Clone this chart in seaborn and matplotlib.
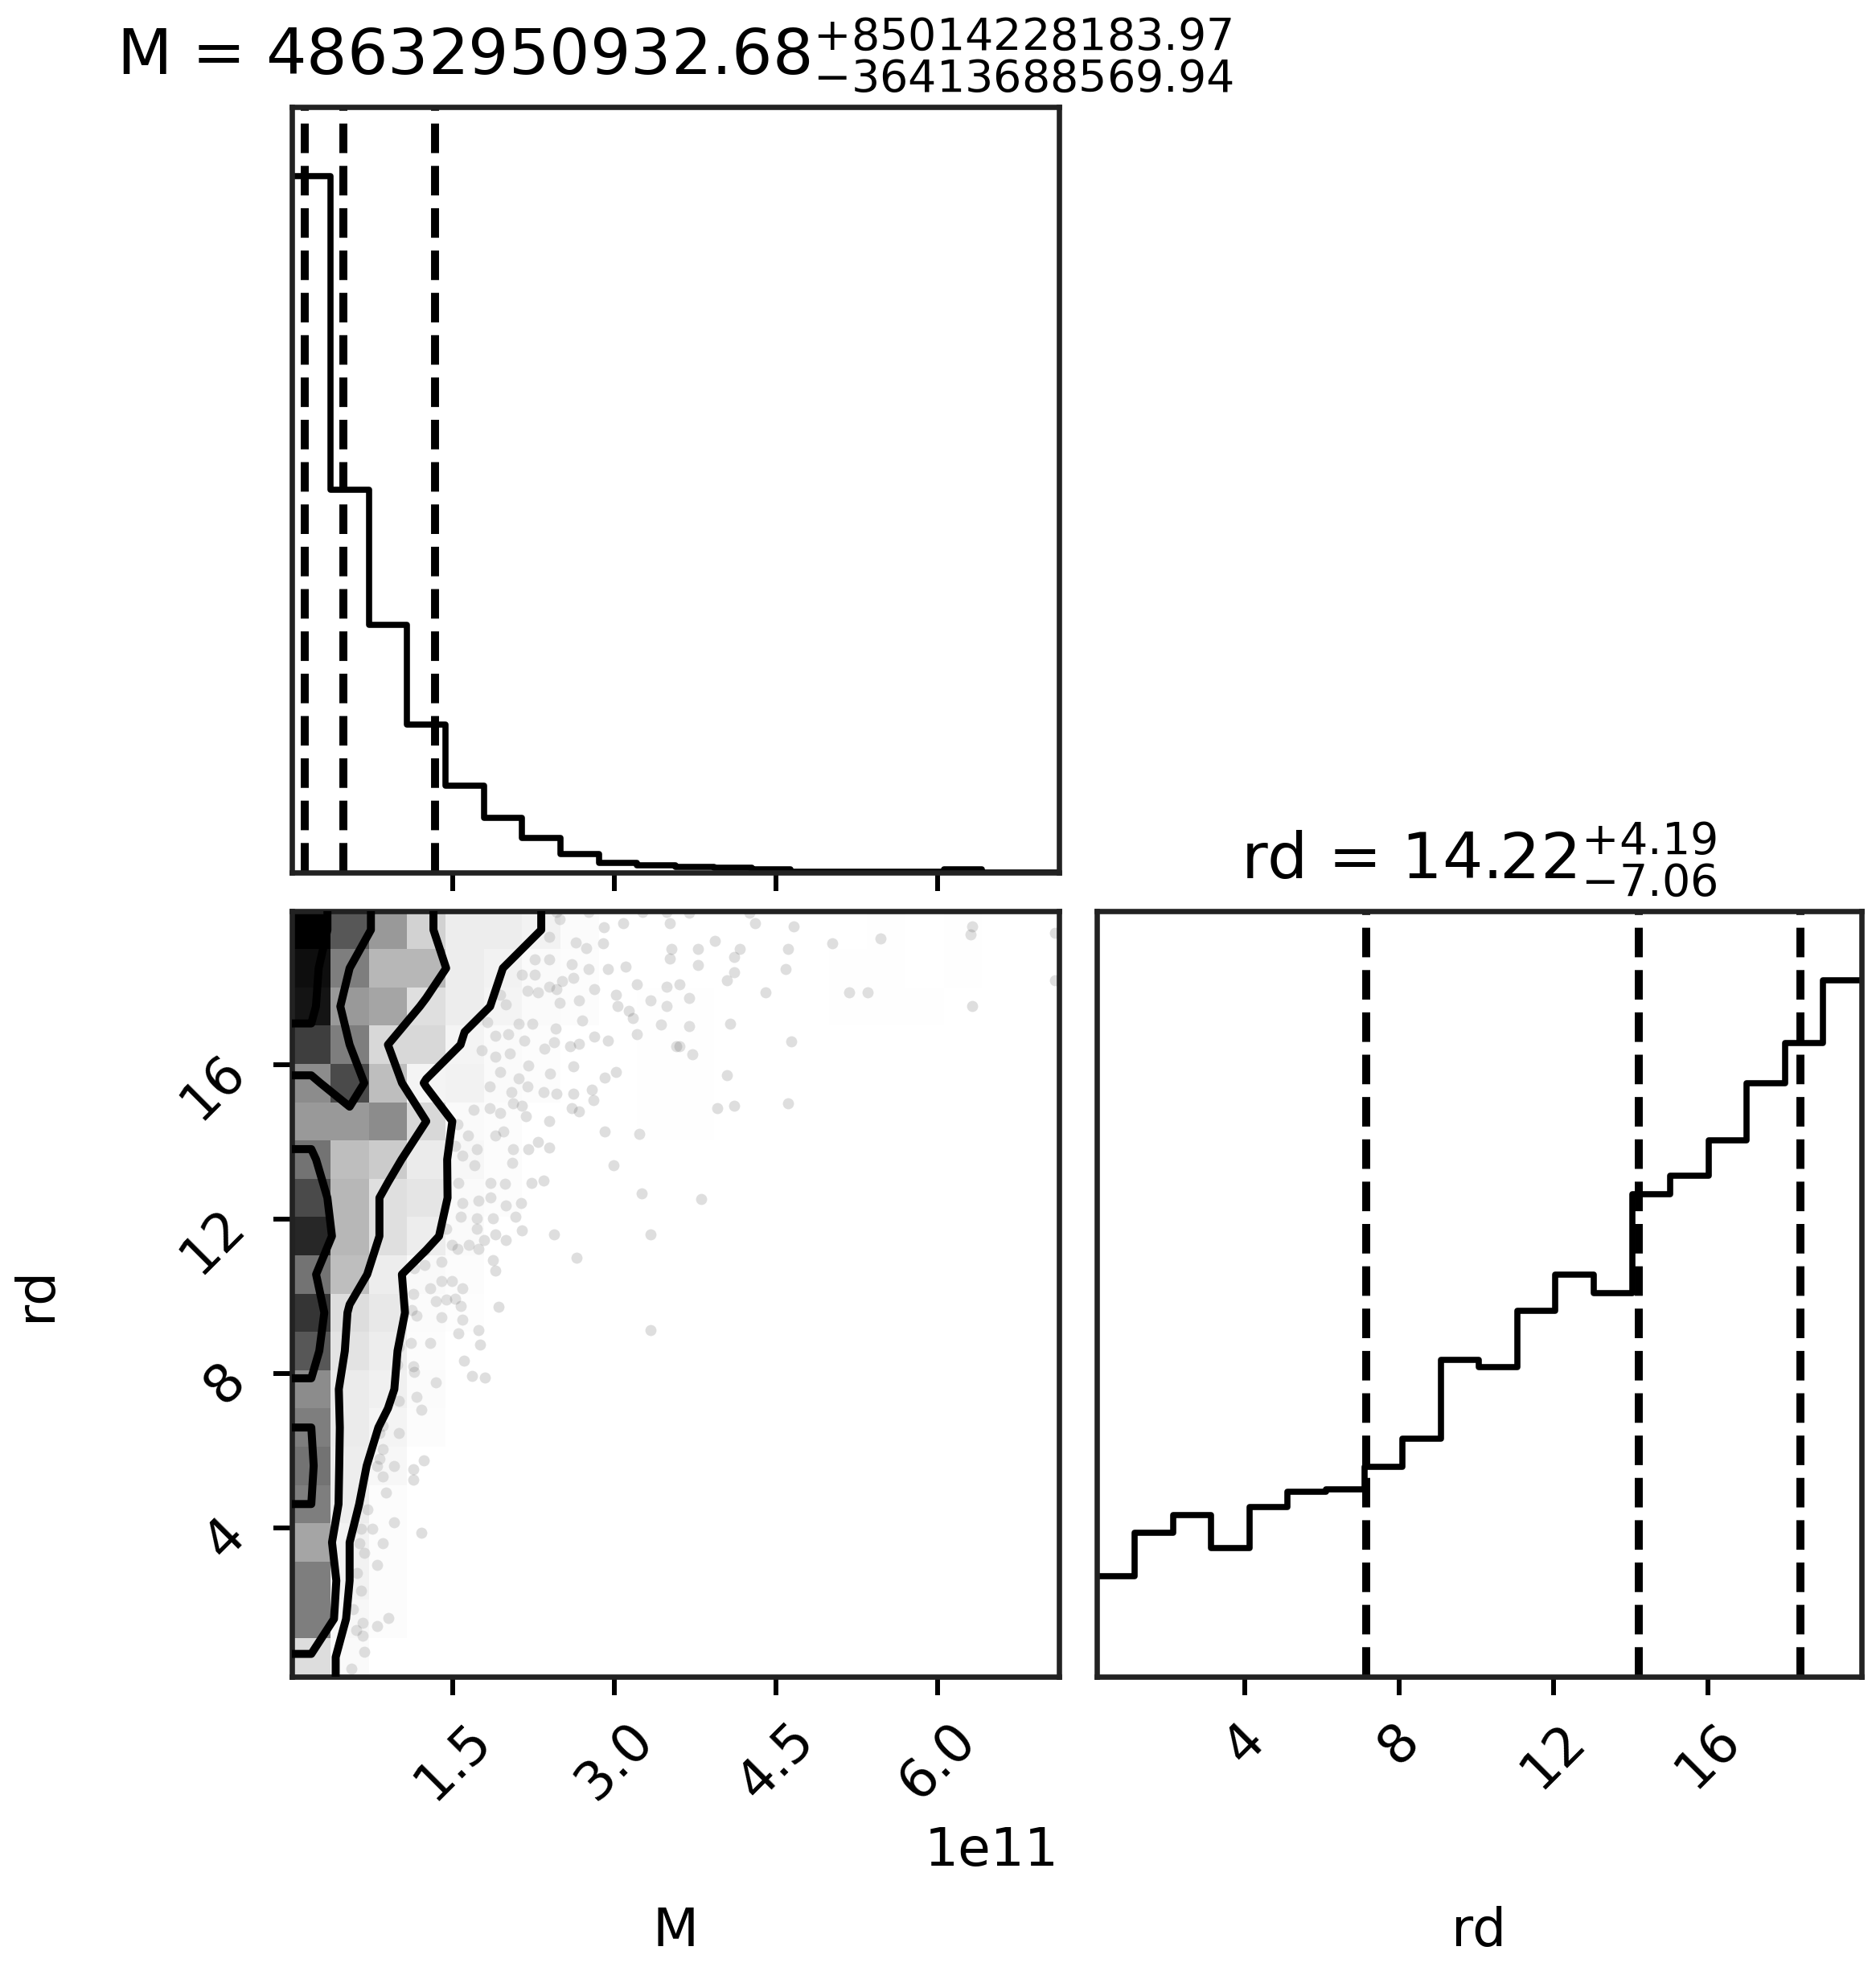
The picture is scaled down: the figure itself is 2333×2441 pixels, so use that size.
import numpy as np
import matplotlib
matplotlib.use("Agg")
import matplotlib.pyplot as plt
import seaborn as sns
from matplotlib.colors import LinearSegmentedColormap
from matplotlib.ticker import MaxNLocator, NullLocator, ScalarFormatter

# ---------------- data ----------------
M_SCALE = 1e11
m_limits = [0.008, 7.12]          # in units of 1e11
rd_limits = [0.16, 19.99]
n_bins = 20

# 1-D marginal histograms (relative counts per bin)
m_counts = [1355, 745, 482, 288, 168, 106, 67, 35, 18, 14, 10, 9, 5, 1, 1, 1, 1, 5, 0, 0]
rd_counts = [195, 280, 315, 250, 330, 360, 365, 408, 463, 618,
             603, 713, 783, 748, 940, 976, 1046, 1158, 1235, 1358]

# quantiles (16, 50, 84 %)
m_quantiles = [12219262362.74, 48632950932.68, 133647179116.65]
rd_quantiles = [7.16, 14.22, 18.41]

m_title = r"M = ${48632950932.68}_{-36413688569.94}^{+85014228183.97}$"
rd_title = r"rd = ${14.22}_{-7.06}^{+4.19}$"
m_label = "M"
rd_label = "rd"

# 2-D histogram (rows: rd bins from top to bottom, columns: M bins)
density_rows = [
    [100, 81, 63, 42, 26, 26, 22, 12, 0, 0, 0, 0, 0, 0, 0, 6, 0, 6, 0, 0],
    [97, 71, 53, 53, 26, 22, 14, 10, 0, 0, 0, 0, 0, 0, 6, 6, 0, 6, 0, 0],
    [96, 63, 59, 35, 26, 20, 14, 10, 0, 6, 6, 0, 0, 0, 6, 6, 6, 0, 0, 0],
    [87, 71, 39, 39, 20, 14, 10, 0, 0, 6, 6, 0, 0, 0, 0, 0, 0, 0, 0, 0],
    [67, 84, 50, 20, 22, 14, 10, 0, 0, 6, 6, 0, 0, 0, 0, 0, 0, 0, 0, 0],
    [63, 63, 67, 39, 14, 10, 0, 0, 0, 6, 6, 0, 0, 0, 0, 0, 0, 0, 0, 0],
    [74, 50, 45, 28, 17, 10, 0, 0, 0, 0, 0, 0, 0, 0, 0, 0, 0, 0, 0, 0],
    [84, 53, 35, 32, 14, 10, 0, 0, 0, 0, 0, 0, 0, 0, 0, 0, 0, 0, 0, 0],
    [92, 53, 35, 26, 14, 0, 0, 0, 0, 0, 0, 0, 0, 0, 0, 0, 0, 0, 0, 0],
    [74, 50, 26, 15, 10, 0, 0, 0, 0, 0, 0, 0, 0, 0, 0, 0, 0, 0, 0, 0],
    [89, 36, 30, 12, 8, 0, 0, 0, 0, 0, 0, 0, 0, 0, 0, 0, 0, 0, 0, 0],
    [81, 33, 26, 10, 0, 0, 0, 0, 0, 0, 0, 0, 0, 0, 0, 0, 0, 0, 0, 0],
    [67, 28, 24, 12, 0, 0, 0, 0, 0, 0, 0, 0, 0, 0, 0, 0, 0, 0, 0, 0],
    [71, 28, 20, 10, 0, 0, 0, 0, 0, 0, 0, 0, 0, 0, 0, 0, 0, 0, 0, 0],
    [74, 26, 17, 0, 0, 0, 0, 0, 0, 0, 0, 0, 0, 0, 0, 0, 0, 0, 0, 0],
    [71, 26, 10, 0, 0, 0, 0, 0, 0, 0, 0, 0, 0, 0, 0, 0, 0, 0, 0, 0],
    [59, 22, 10, 0, 0, 0, 0, 0, 0, 0, 0, 0, 0, 0, 0, 0, 0, 0, 0, 0],
    [71, 22, 10, 0, 0, 0, 0, 0, 0, 0, 0, 0, 0, 0, 0, 0, 0, 0, 0, 0],
    [71, 17, 10, 0, 0, 0, 0, 0, 0, 0, 0, 0, 0, 0, 0, 0, 0, 0, 0, 0],
    [36, 14, 0, 0, 0, 0, 0, 0, 0, 0, 0, 0, 0, 0, 0, 0, 0, 0, 0, 0],
]

# individual samples visible outside the outer contour (M in 1e11, rd)
sample_m = [
    2.46, 2.49, 2.76, 2.90, 3.08, 3.51, 3.26, 3.48, 2.39, 2.64, 2.74, 2.89, 3.53, 2.26, 2.39,
    2.60, 2.76, 2.94, 3.10, 3.51, 2.14, 2.26, 2.51, 2.62, 3.21, 3.48, 2.19, 2.29, 2.39, 2.46,
    2.81, 3.01, 3.33, 1.94, 1.99, 2.49, 2.67, 3.03, 3.13, 3.17, 3.48, 3.43, 1.82, 1.89, 2.01,
    2.11, 2.24, 2.45, 2.70, 2.81, 2.94, 3.21, 1.77, 1.89, 2.03, 2.16, 2.35, 2.44, 2.59, 2.67,
    3.57, 1.94, 2.11, 2.20, 2.40, 2.62, 2.91, 3.01, 1.84, 2.04, 2.19, 2.34, 2.46, 2.62, 2.79,
    2.80, 1.69, 1.84, 1.94, 2.06, 2.14, 2.18, 2.39, 2.60, 2.67, 1.54, 1.64, 1.89, 1.97, 2.91,
    3.23, 1.52, 1.59, 1.72, 2.06, 2.20, 2.29, 2.39, 2.05, 1.70, 2.99, 1.55, 1.85, 1.98, 2.23,
    2.34, 3.25, 1.59, 1.74, 1.85, 1.99, 2.13, 1.37, 1.57, 1.72, 1.87, 2.08,
    3.69, 4.25, 4.30, 4.66, 3.93, 3.77, 4.16, 4.11, 4.61, 5.02, 5.47, 6.32, 6.30, 7.09, 3.77,
    4.11, 4.04, 4.59, 3.60, 3.69, 4.40, 5.18, 5.35, 6.32, 7.09, 3.69, 4.07, 4.64, 3.60, 3.72,
    4.04, 3.95, 4.11, 4.61, 3.80,
    1.19, 1.24, 1.34, 1.44, 1.49, 1.54, 1.72, 1.65, 1.74, 1.79, 1.89, 1.99, 2.14, 2.44, 3.33,
    1.14, 1.24, 1.39, 1.87, 1.89, 2.65, 1.13, 1.29, 1.39, 1.49, 1.59, 1.34, 1.44, 1.52, 1.57,
    1.92, 1.12, 1.16, 1.39, 1.59, 1.55, 1.74, 1.75, 3.33, 0.97, 1.00, 1.11, 1.29, 1.60, 0.98,
    1.13, 1.14, 1.34, 1.68, 1.80, 1.00, 1.16, 1.21, 0.80, 0.85, 0.75, 0.82, 1.00, 0.67, 0.85,
    0.82, 0.66, 0.80, 0.95, 1.13, 1.23, 0.85, 1.13, 0.63, 0.88, 0.71, 0.95, 0.65, 0.75, 1.21,
    0.63, 0.85, 0.68, 0.80, 0.61, 0.65, 0.57, 0.66, 0.80, 0.90, 0.60, 0.66, 0.68, 0.56,
]
sample_rd = [
    19.95, 19.77, 19.95, 19.56, 19.66, 19.66, 19.95, 19.95, 19.31, 19.17, 19.03, 19.14, 19.00, 18.72, 18.72,
    18.61, 18.47, 18.47, 18.54, 18.75, 18.33, 18.33, 18.16, 18.26, 18.09, 18.02, 17.91, 17.88, 18.02, 17.95,
    17.95, 17.81, 17.67, 17.81, 17.56, 17.60, 17.67, 17.53, 17.39, 17.21, 17.53, 17.04, 17.11, 16.76, 16.79,
    17.07, 17.07, 16.93, 17.14, 16.72, 16.62, 16.79, 16.37, 16.20, 16.30, 16.62, 16.41, 16.58, 16.48, 16.55,
    16.48, 15.81, 15.64, 15.99, 15.78, 15.95, 15.67, 15.81, 15.43, 15.29, 15.43, 15.29, 15.25, 15.25, 15.36,
    15.08, 14.83, 14.87, 14.76, 15.01, 14.94, 14.66, 14.55, 14.87, 14.80, 14.45, 14.17, 14.17, 14.27, 14.27,
    14.20, 13.89, 13.64, 13.82, 13.82, 13.82, 14.00, 13.85, 13.47, 13.40, 13.40, 12.94, 12.94, 12.91, 12.94,
    13.01, 12.66, 12.42, 12.49, 12.56, 12.35, 12.42, 12.24, 12.07, 12.03, 12.03, 12.07,
    19.94, 19.94, 19.66, 19.59, 19.21, 19.00, 19.00, 18.79, 19.00, 19.14, 19.28, 19.59, 19.38, 19.42, 18.59,
    18.40, 18.19, 18.47, 18.09, 17.74, 17.88, 17.88, 17.88, 17.53, 18.19, 17.00, 17.07, 16.60, 16.48, 16.27,
    15.74, 14.87, 14.94, 15.01, 12.52,
    11.49, 11.19, 11.56, 11.75, 11.34, 11.23, 11.75, 11.34, 11.23, 11.45, 11.60, 11.45, 11.71, 11.60, 11.60,
    10.74, 10.81, 10.89, 10.93, 10.66, 11.00, 10.06, 10.21, 10.40, 10.40, 10.21, 9.88, 9.91, 9.95, 9.76,
    9.73, 9.65, 9.50, 9.46, 9.39, 9.05, 9.13, 8.75, 9.13, 8.90, 8.68, 8.79, 8.79, 8.34, 8.23,
    8.19, 8.04, 7.78, 7.93, 7.89, 7.29, 7.40, 7.06, 6.84, 6.65, 6.46, 6.46, 6.46, 6.01, 6.05,
    5.79, 5.56, 5.60, 5.60, 5.53, 5.75, 5.34, 5.26, 4.85, 4.93, 4.48, 4.14, 3.99, 3.99, 3.88,
    3.61, 3.61, 3.35, 3.05, 2.83, 2.38, 1.89, 1.55, 1.47, 1.66, 1.36, 1.21, 0.80, 0.35,
]

contour_levels = 1.0 - np.exp(-0.5 * np.arange(0.5, 2.1, 0.5) ** 2)

# ---------------- figure ----------------
W, H = 2333, 2441
DPI = 476.6
plt.rcParams["font.family"] = ["DejaVu Sans"]
plt.rcParams["axes.linewidth"] = 1.0
plt.rcParams["xtick.major.width"] = 0.9
plt.rcParams["ytick.major.width"] = 0.9
plt.rcParams["axes.edgecolor"] = "#222222"
fig = plt.figure(figsize=(W / DPI, H / DPI), dpi=DPI)


def rect(x0, y0, x1, y1):
    return [x0 / W, 1 - y1 / H, (x1 - x0) / W, (y1 - y0) / H]


ax_m = fig.add_axes(rect(363.3, 132.7, 1316.5, 1084.5))
ax_2d = fig.add_axes(rect(363.3, 1132.5, 1316.5, 2084.5))
ax_rd = fig.add_axes(rect(1363.5, 1132.5, 2315.0, 2084.5))

m_edges = np.linspace(m_limits[0], m_limits[1], n_bins + 1) * M_SCALE
rd_edges = np.linspace(rd_limits[0], rd_limits[1], n_bins + 1)
m_centers = 0.5 * (m_edges[1:] + m_edges[:-1])
rd_centers = 0.5 * (rd_edges[1:] + rd_edges[:-1])

hist_lw = 1.15
quant_lw = 1.5

# ---- 1-D histogram of M
sns.histplot(x=list(m_centers), weights=list(m_counts), bins=list(m_edges), element="step",
             fill=False, color="k", linewidth=hist_lw, ax=ax_m)
for q in m_quantiles:
    ax_m.axvline(q, color="k", ls="dashed", lw=quant_lw)
ax_m.set_xlim(m_edges[0], m_edges[-1])
ax_m.set_ylim(0, 1.1 * max(m_counts))
ax_m.yaxis.set_major_locator(NullLocator())
ax_m.xaxis.set_major_locator(MaxNLocator(5, prune="lower"))
ax_m.tick_params(axis="x", labelbottom=False)
ax_m.set_xlabel("")
ax_m.set_ylabel("")
ax_m.set_title(m_title, fontsize=12)

# ---- 1-D histogram of rd
sns.histplot(x=list(rd_centers), weights=list(rd_counts), bins=list(rd_edges), element="step",
             fill=False, color="k", linewidth=hist_lw, ax=ax_rd)
for q in rd_quantiles:
    ax_rd.axvline(q, color="k", ls="dashed", lw=quant_lw)
ax_rd.set_xlim(rd_edges[0], rd_edges[-1])
ax_rd.set_ylim(0, 1.1 * max(rd_counts))
ax_rd.yaxis.set_major_locator(NullLocator())
ax_rd.xaxis.set_major_locator(MaxNLocator(5, prune="lower"))
ax_rd.tick_params(axis="x", labelrotation=45)
ax_rd.set_ylabel("")
ax_rd.set_xlabel(rd_label, fontsize=10)
ax_rd.xaxis.set_label_coords(0.5, -0.3)
ax_rd.set_title(rd_title, fontsize=12)

# ---- 2-D panel
Z = np.array(density_rows[::-1], dtype=float)   # rows: rd from bottom, cols: M
gx, gy = np.meshgrid(m_centers, rd_centers)

# samples
sns.scatterplot(x=np.array(sample_m) * M_SCALE, y=np.array(sample_rd), color="k", alpha=0.13,
                s=4.4, linewidth=0, ax=ax_2d, zorder=0, legend=False)

# contour levels from the enclosed mass (as in corner)
flat = np.sort(Z.flatten())[::-1]
cum = np.cumsum(flat)
cum /= cum[-1]
V = np.empty(len(contour_levels))
for i, v0 in enumerate(contour_levels):
    sel = flat[cum <= v0]
    V[i] = sel[-1] if len(sel) else flat[0]
V.sort()
m = np.diff(V) == 0
while np.any(m):
    V[np.where(m)[0][0]] *= 1.0 - 1e-4
    m = np.diff(V) == 0
V.sort()

# padded grid for the contours
Z2 = Z.min() + np.zeros((Z.shape[0] + 4, Z.shape[1] + 4))
Z2[2:-2, 2:-2] = Z
Z2[2:-2, 1] = Z[:, 0]
Z2[2:-2, -2] = Z[:, -1]
Z2[1, 2:-2] = Z[0]
Z2[-2, 2:-2] = Z[-1]
Z2[1, 1] = Z[0, 0]
Z2[1, -2] = Z[0, -1]
Z2[-2, 1] = Z[-1, 0]
Z2[-2, -2] = Z[-1, -1]
dxm = m_centers[1] - m_centers[0]
dyr = rd_centers[1] - rd_centers[0]
X2 = np.concatenate([m_centers[0] + np.array([-2, -1]) * dxm, m_centers,
                     m_centers[-1] + np.array([1, 2]) * dxm])
Y2 = np.concatenate([rd_centers[0] + np.array([-2, -1]) * dyr, rd_centers,
                     rd_centers[-1] + np.array([1, 2]) * dyr])

ax_2d.contourf(X2, Y2, Z2, [V.min(), Z.max()], colors=["white"], antialiased=False, zorder=1)

density_cmap = LinearSegmentedColormap.from_list("density", [(1, 1, 1, 0), (0, 0, 0, 1)])
sns.histplot(x=list(gx.flatten()), y=list(gy.flatten()), weights=list(Z.flatten()),
             bins=(list(m_edges), list(rd_edges)),
             cmap=density_cmap, vmin=0, vmax=Z.max(), ax=ax_2d, zorder=2)

ax_2d.contour(X2, Y2, Z2, V, colors="k", linewidths=1.5, zorder=3)

ax_2d.set_xlim(m_edges[0], m_edges[-1])
ax_2d.set_ylim(rd_edges[0], rd_edges[-1])
ax_2d.xaxis.set_major_locator(MaxNLocator(5, prune="lower"))
ax_2d.yaxis.set_major_locator(MaxNLocator(5, prune="lower"))
ax_2d.xaxis.set_major_formatter(ScalarFormatter(useMathText=False))
ax_2d.tick_params(axis="x", labelrotation=45)
ax_2d.tick_params(axis="y", labelrotation=45)
ax_2d.set_xlabel(m_label, fontsize=10)
ax_2d.set_ylabel(rd_label, fontsize=10)
ax_2d.xaxis.set_label_coords(0.5, -0.3)
ax_2d.yaxis.set_label_coords(-0.3, 0.5)

for a in (ax_m, ax_2d, ax_rd):
    a.grid(False)
    a.set_facecolor("white")

fig.savefig("out.png", dpi=DPI, facecolor="white")
